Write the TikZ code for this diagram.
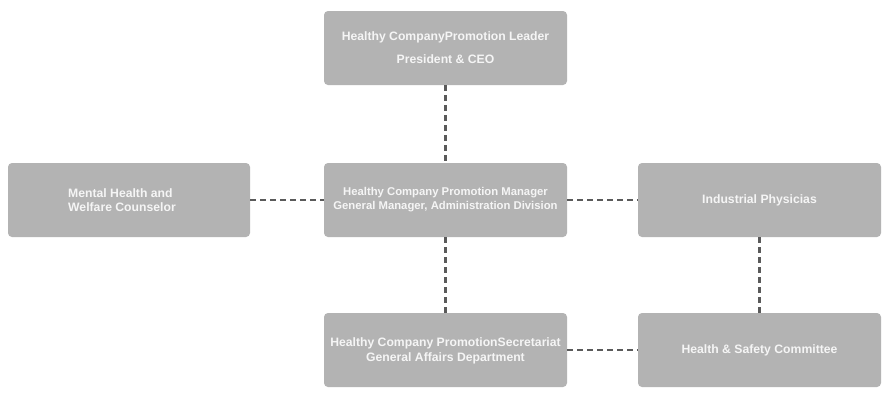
\documentclass[tikz,border=0pt]{standalone}
\usepackage{fontspec}
\setmainfont{Liberation Sans}
\begin{document}
\begin{tikzpicture}[x=1pt,y=-1pt,
  box/.style={fill=boxgray,rounded corners=4pt,text=txt,font=\bfseries\fontsize{12.2}{14.5}\selectfont,align=center,inner sep=0pt},
  link/.style={draw=dashgray,line width=2.4pt,dash pattern=on 6pt off 4pt}]
\definecolor{boxgray}{HTML}{B3B3B3}
\definecolor{txt}{HTML}{F5F5F5}
\definecolor{dashgray}{HTML}{5A5A5A}
\useasboundingbox (0,0) rectangle (891,400);
\fill[white] (0,0) rectangle (891,400);
\path[box] (324,11) rectangle (567,85);
\node[box,font=\bfseries\fontsize{12.2}{23}\selectfont] (top) at (445.5,48) {Healthy CompanyPromotion Leader\\President \& CEO};
\path[box] (8,163) rectangle (250,237);
\node[box,align=left,anchor=west] (left) at (68,200) {Mental Health and\\Welfare Counselor};
\path[box] (324,163) rectangle (567,237);
\node[box,font=\bfseries\fontsize{11.3}{14}\selectfont] (mid) at (445.5,200) {Healthy Company Promotion Manager\\General Manager, Administration Division};
\path[box] (638,163) rectangle (881,237);
\node[box] (ind) at (759.5,200) {Industrial Physicias};
\path[box] (324,313) rectangle (567,387);
\node[box] (sec) at (445.5,351) {Healthy Company PromotionSecretariat\\General Affairs Department};
\path[box] (638,313) rectangle (881,387);
\node[box] (hsc) at (759.5,350) {Health \& Safety Committee};
\coordinate (topB) at (445.5,85);
\coordinate (midT) at (445.5,163);
\coordinate (midB) at (445.5,237);
\coordinate (secT) at (445.5,313);
\coordinate (leftR) at (250,200);
\coordinate (midL) at (324,200);
\coordinate (midR) at (567,200);
\coordinate (indL) at (638,200);
\coordinate (indB) at (759.5,237);
\coordinate (hscT) at (759.5,313);
\coordinate (secR) at (567,350);
\coordinate (hscL) at (638,350);
\draw[link] (topB) -- (midT);
\draw[link] (midB) -- (secT);
\draw[link] (leftR) -- (midL);
\draw[link] (midR) -- (indL);
\draw[link] (indB) -- (hscT);
\draw[link] (secR) -- (hscL);
\end{tikzpicture}
\end{document}
